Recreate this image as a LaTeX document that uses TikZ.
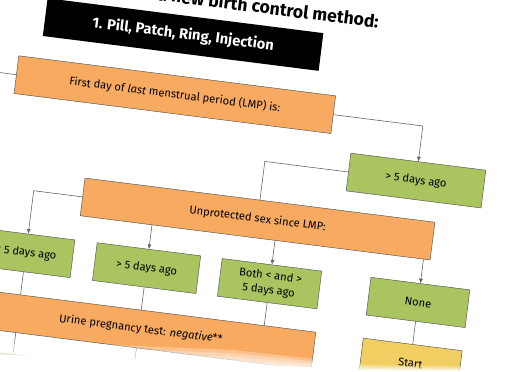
\documentclass[tikz,border=0pt]{standalone}
\usepackage{fontspec}
\setmainfont{Fira Sans}
\usepackage{tikz}
\usetikzlibrary{arrows.meta, calc}
\definecolor{boxorange}{RGB}{248, 170, 96}
\definecolor{boxgreen}{RGB}{170, 196, 96}
\definecolor{boxyellow}{RGB}{240, 206, 98}
\definecolor{boxborder}{RGB}{85, 85, 85}
\definecolor{arrowcol}{RGB}{100, 100, 100}

\begin{document}
\begin{tikzpicture}[
    >=Latex,
    font=\fontsize{9.5}{12.5}\selectfont,
    flowarrow/.style={-{Latex[length=4pt, width=3.5pt]}, draw=arrowcol, line width=0.5pt},
    joinline/.style={-, draw=arrowcol, line width=0.5pt},
    questionbox/.style={rectangle, draw=boxborder, fill=boxorange, line width=0.4pt,
                        minimum height=1.14cm, align=center, inner sep=3pt},
    answerbox/.style={rectangle, draw=boxborder, fill=boxgreen, line width=0.4pt,
                      minimum height=1.14cm, align=center, inner sep=3pt},
    actionbox/.style={rectangle, draw=boxborder, fill=boxyellow, line width=0.4pt,
                      minimum height=1.14cm, align=center, inner sep=3pt},
    headerbox/.style={rectangle, fill=black, text=white, minimum height=1.14cm,
                      font=\fontsize{12.5}{14}\selectfont\bfseries},
    fadelayer/.style={fill=white, draw=none, fill opacity=0.3},
]

\useasboundingbox (0,0) rectangle (15.69,-11.13);
\clip (0,0) rectangle (15.69,-11.13);

% ============================================================
% SHEET (tilted page)
% ============================================================
\begin{scope}[rotate=-7.2, transform shape]

% title
\node[anchor=east, inner sep=0pt, font=\fontsize{15}{18}\selectfont\bfseries]
    (title) at (11.36, 0.8) {a new birth control method:};
\node[headerbox, minimum width=8.34cm] (methods) at (5.58, -0.34)
    {1. Pill, Patch, Ring, Injection};

% nodes
\node[questionbox, minimum width=9.58cm] (lmp) at (5.56, -2.16)
    {First day of \textit{last} menstrual period (LMP) is:};
\node[answerbox, minimum width=4.08cm] (gtfive) at (13.06, -3.81)
    {> 5 days ago};
\node[questionbox, minimum width=10.58cm] (unprot) at (8.49, -5.55)
    {Unprotected sex since LMP:};

\node[answerbox, minimum width=2.82cm] (ltfive) at (1.72, -7.43)
    {< 5 days ago};
\node[answerbox, minimum width=3.13cm] (sexgtfive) at (5.37, -7.43)
    {> 5 days ago};
\node[answerbox, minimum width=3.01cm] (both) at (9.09, -7.43)
    {Both < and >\\5 days ago};
\node[answerbox, minimum width=2.99cm] (none) at (13.58, -7.43)
    {None};

\node[questionbox, minimum width=10.44cm] (urine) at (5.43, -9.27)
    {Urine pregnancy test: \textit{negative}**};
\node[actionbox, minimum width=2.99cm] (start) at (13.58, -9.27)
    {Start};
\node[questionbox, minimum width=4.8cm] (nextleft) at (1.2, -11.07) {};

% free ends
\coordinate (lmpexit) at (-1.5, -2.16);
\coordinate (urinedown) at (5.37, -12.2);

% connectors
\draw[joinline] (lmp.west) -- (lmpexit);
\draw[flowarrow] (lmp.east) -- ($(lmp.west)!(gtfive.north)!(lmp.east)$) -- (gtfive.north);
\draw[joinline] (gtfive.west) -- ($(gtfive.west)!(unprot.north)!(gtfive.east)$) -- (unprot.north);

\draw[flowarrow] (unprot.west) -- ($(unprot.west)!(ltfive.north)!(unprot.east)$) -- (ltfive.north);
\draw[flowarrow] ($(unprot.south west)!(sexgtfive.north)!(unprot.south east)$) -- (sexgtfive.north);
\draw[flowarrow] ($(unprot.south west)!(both.north)!(unprot.south east)$) -- (both.north);
\draw[flowarrow] ($(unprot.south west)!(none.north)!(unprot.south east)$) -- (none.north);

\draw[joinline] (ltfive.south) -- ($(urine.north west)!(ltfive.south)!(urine.north east)$);
\draw[joinline] (sexgtfive.south) -- ($(urine.north west)!(sexgtfive.south)!(urine.north east)$);
\draw[joinline] (both.south) -- ($(urine.north west)!(both.south)!(urine.north east)$);
\draw[joinline] (none) -- (start);

\draw[joinline] ($(urine.south west)!(ltfive.south)!(urine.south east)$)
    -- ($(nextleft.north west)!(ltfive.south)!(nextleft.north east)$);
\draw[joinline] ($(urine.south west)!(sexgtfive.south)!(urine.south east)$) -- (urinedown);

\end{scope}

% ============================================================
% PAGE CURL (washed-out bottom edge)
% ============================================================
\fill[fadelayer] (0,-10.2) -- (7,-10.5) -- (11,-10.95) -- (15.69,-11.02) -- (15.69,-11.2) -- (0,-11.2) -- cycle;
\fill[fadelayer] (0,-10.32) -- (7,-10.6) -- (11,-11.0) -- (15.69,-11.06) -- (15.69,-11.2) -- (0,-11.2) -- cycle;
\fill[fadelayer] (0,-10.44) -- (7,-10.7) -- (11,-11.04) -- (15.69,-11.09) -- (15.69,-11.2) -- (0,-11.2) -- cycle;
\fill[fadelayer] (0,-10.54) -- (7,-10.8) -- (11,-11.07) -- (15.69,-11.11) -- (15.69,-11.2) -- (0,-11.2) -- cycle;
\fill[white] (0,-10.64) -- (7,-10.9) -- (11,-11.1) -- (15.69,-11.125) -- (15.69,-11.2) -- (0,-11.2) -- cycle;

\end{tikzpicture}
\end{document}
